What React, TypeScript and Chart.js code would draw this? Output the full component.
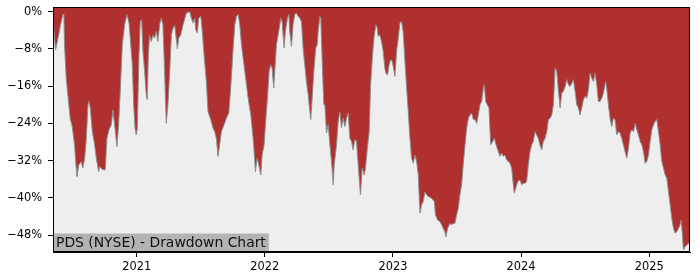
import React, { useEffect, useRef } from "react";
import { Chart, registerables } from "chart.js";

Chart.register(...registerables);

const dates: number[] = [
  2020.347, 2020.367, 2020.391, 2020.403, 2020.424, 2020.432, 2020.437, 2020.450, 2020.463, 2020.481,
  2020.497, 2020.515, 2020.528, 2020.534, 2020.549, 2020.567, 2020.580, 2020.594, 2020.607, 2020.620,
  2020.628, 2020.638, 2020.654, 2020.672, 2020.685, 2020.703, 2020.711, 2020.737, 2020.755, 2020.768,
  2020.784, 2020.802, 2020.815, 2020.828, 2020.846, 2020.859, 2020.872, 2020.888, 2020.906, 2020.924,
  2020.940, 2020.950, 2020.966, 2020.977, 2020.987, 2020.997, 2021.005, 2021.018, 2021.028, 2021.039,
  2021.049, 2021.062, 2021.075, 2021.083, 2021.091, 2021.101, 2021.114, 2021.128, 2021.140, 2021.153,
  2021.166, 2021.179, 2021.192, 2021.205, 2021.218, 2021.231, 2021.244, 2021.258, 2021.271, 2021.284,
  2021.297, 2021.318, 2021.328, 2021.344, 2021.362, 2021.388, 2021.414, 2021.427, 2021.440, 2021.453,
  2021.461, 2021.474, 2021.484, 2021.500, 2021.510, 2021.526, 2021.544, 2021.557, 2021.578, 2021.596,
  2021.609, 2021.622, 2021.635, 2021.648, 2021.661, 2021.682, 2021.700, 2021.719, 2021.734, 2021.753,
  2021.766, 2021.779, 2021.792, 2021.805, 2021.818, 2021.844, 2021.870, 2021.891, 2021.909, 2021.922,
  2021.927, 2021.940, 2021.953, 2021.969, 2021.979, 2021.995, 2022.005, 2022.021, 2022.034, 2022.047,
  2022.057, 2022.070, 2022.078, 2022.091, 2022.109, 2022.125, 2022.135, 2022.143, 2022.151, 2022.161,
  2022.177, 2022.188, 2022.195, 2022.208, 2022.221, 2022.234, 2022.247, 2022.260, 2022.273, 2022.286,
  2022.299, 2022.312, 2022.325, 2022.339, 2022.352, 2022.359, 2022.370, 2022.383, 2022.398, 2022.409,
  2022.417, 2022.430, 2022.437, 2022.451, 2022.461, 2022.469, 2022.482, 2022.495, 2022.508, 2022.521,
  2022.534, 2022.542, 2022.560, 2022.573, 2022.586, 2022.599, 2022.612, 2022.625, 2022.638, 2022.651,
  2022.664, 2022.677, 2022.690, 2022.703, 2022.716, 2022.729, 2022.747, 2022.760, 2022.776, 2022.786,
  2022.802, 2022.815, 2022.826, 2022.841, 2022.852, 2022.867, 2022.878, 2022.885, 2022.898, 2022.911,
  2022.924, 2022.937, 2022.945, 2022.958, 2022.971, 2022.982, 2022.995, 2023.003, 2023.016, 2023.029,
  2023.042, 2023.055, 2023.068, 2023.081, 2023.094, 2023.107, 2023.120, 2023.133, 2023.146, 2023.159,
  2023.172, 2023.185, 2023.198, 2023.211, 2023.224, 2023.237, 2023.250, 2023.263, 2023.276, 2023.302,
  2023.323, 2023.333, 2023.349, 2023.367, 2023.380, 2023.393, 2023.406, 2023.414, 2023.427, 2023.445,
  2023.458, 2023.471, 2023.484, 2023.497, 2023.510, 2023.523, 2023.536, 2023.549, 2023.563, 2023.576,
  2023.589, 2023.602, 2023.615, 2023.628, 2023.641, 2023.654, 2023.667, 2023.680, 2023.693, 2023.706,
  2023.714, 2023.724, 2023.737, 2023.750, 2023.763, 2023.779, 2023.792, 2023.805, 2023.823, 2023.836,
  2023.849, 2023.862, 2023.875, 2023.888, 2023.901, 2023.914, 2023.927, 2023.940, 2023.948, 2023.958,
  2023.974, 2023.992, 2024.005, 2024.018, 2024.031, 2024.044, 2024.057, 2024.070, 2024.083, 2024.096,
  2024.109, 2024.122, 2024.135, 2024.148, 2024.161, 2024.174, 2024.188, 2024.201, 2024.214, 2024.227,
  2024.240, 2024.253, 2024.266, 2024.279, 2024.292, 2024.305, 2024.318, 2024.331, 2024.344, 2024.357,
  2024.370, 2024.383, 2024.396, 2024.409, 2024.422, 2024.435, 2024.448, 2024.461, 2024.474, 2024.487,
  2024.500, 2024.513, 2024.526, 2024.539, 2024.552, 2024.565, 2024.578, 2024.591, 2024.604, 2024.617,
  2024.630, 2024.643, 2024.661, 2024.669, 2024.682, 2024.695, 2024.708, 2024.721, 2024.734, 2024.747,
  2024.760, 2024.773, 2024.786, 2024.799, 2024.812, 2024.826, 2024.839, 2024.852, 2024.865, 2024.878,
  2024.891, 2024.904, 2024.917, 2024.930, 2024.943, 2024.956, 2024.969, 2024.982, 2024.995, 2025.008,
  2025.021, 2025.034, 2025.047, 2025.060, 2025.073, 2025.086, 2025.099, 2025.112, 2025.125, 2025.138,
  2025.151, 2025.164, 2025.177, 2025.190, 2025.203, 2025.216, 2025.229, 2025.242, 2025.250, 2025.260,
  2025.268, 2025.281, 2025.294, 2025.307, 2025.319,
];

// Drawdown from running peak, in percent
const drawdown: number[] = [
  -1.7, -8.2, -5.0, -3.2, -0.6, -0.5, -7.1, -14.3, -17.9, -22.9,
  -24.7, -28.6, -33.6, -35.4, -32.9, -32.2, -33.6, -31.5, -27.2, -20.0,
  -19.3, -20.7, -25.8, -28.6, -31.5, -34.4, -33.3, -34.0, -34.0, -27.2,
  -25.4, -24.3, -21.1, -24.3, -29.0, -24.3, -17.1, -7.1, -2.8, -0.6,
  -2.4, -5.7, -11.4, -20.0, -25.0, -26.5, -25.0, -9.3, -2.1, -1.7,
  -8.5, -12.8, -17.9, -18.9, -9.3, -5.0, -6.4, -5.0, -5.7, -4.2,
  -6.4, -2.8, -1.4, -2.8, -12.8, -24.0, -20.0, -12.8, -5.0, -3.5,
  -3.0, -8.0, -5.7, -5.0, -2.8, -0.3, 0.0, -1.4, -2.4, -1.4,
  -3.9, -4.6, -1.4, -1.0, -3.5, -9.3, -15.0, -21.5, -23.2, -25.0,
  -25.8, -27.2, -31.1, -28.6, -25.8, -24.3, -22.9, -21.8, -16.4, -7.8,
  -2.8, -1.0, -0.6, -2.8, -7.1, -12.8, -18.6, -22.2, -27.2, -32.2,
  -34.4, -31.5, -32.9, -35.1, -30.8, -28.6, -24.3, -18.6, -12.8, -11.4,
  -12.1, -16.4, -12.8, -7.1, -4.2, -1.4, -2.1, -5.0, -7.8, -4.2,
  -1.4, -0.6, -4.2, -7.5, -2.8, -0.6, -0.3, -1.0, -1.4, -2.1,
  -7.8, -11.4, -15.0, -17.9, -21.5, -23.2, -18.6, -12.8, -7.8, -7.1,
  -4.2, -1.0, -1.4, -12.8, -20.0, -20.0, -26.1, -24.3, -28.6, -32.2,
  -37.2, -32.9, -28.6, -23.6, -21.5, -25.0, -22.9, -24.7, -22.9, -21.8,
  -27.2, -27.9, -29.7, -27.5, -27.9, -32.9, -39.4, -33.6, -35.1, -33.6,
  -29.0, -25.8, -15.7, -9.3, -5.7, -2.8, -3.5, -5.3, -5.0, -6.4,
  -8.5, -12.1, -13.2, -13.6, -11.4, -10.3, -10.7, -11.8, -13.9, -8.5,
  -5.7, -2.4, -2.1, -4.6, -10.7, -16.4, -21.5, -27.2, -31.5, -32.6,
  -30.8, -32.2, -35.1, -43.3, -41.5, -40.8, -38.7, -39.4, -39.7, -40.1,
  -40.8, -43.7, -44.8, -45.1, -45.8, -46.6, -47.3, -48.4, -46.6, -45.5,
  -45.8, -45.5, -45.5, -43.7, -42.3, -39.4, -37.2, -32.9, -28.6, -25.0,
  -22.9, -22.2, -21.8, -23.2, -23.2, -24.0, -22.2, -20.0, -19.3, -16.4,
  -15.7, -19.3, -20.0, -20.7, -28.6, -27.9, -27.2, -28.6, -30.1, -31.1,
  -30.4, -31.1, -30.8, -31.9, -32.2, -32.6, -33.6, -37.2, -39.0, -38.0,
  -36.5, -36.2, -37.2, -36.9, -36.9, -36.5, -32.9, -30.1, -28.6, -27.9,
  -25.8, -26.5, -27.2, -28.6, -29.7, -27.9, -27.2, -25.8, -23.2, -22.9,
  -22.2, -20.0, -12.1, -12.8, -17.1, -20.7, -17.5, -17.1, -16.1, -14.6,
  -15.7, -16.1, -15.4, -14.6, -17.1, -20.0, -20.7, -22.2, -20.7, -18.9,
  -18.2, -18.6, -16.8, -13.2, -14.3, -15.0, -13.2, -15.7, -19.3, -19.3,
  -18.6, -17.5, -15.0, -16.4, -20.0, -22.9, -24.7, -22.9, -23.2, -26.5,
  -25.8, -26.1, -27.2, -28.6, -30.1, -31.5, -29.3, -26.1, -25.4, -25.8,
  -24.0, -25.4, -26.5, -27.9, -28.6, -30.1, -32.6, -32.2, -30.8, -27.9,
  -25.4, -24.3, -23.6, -23.2, -25.8, -28.6, -32.2, -33.6, -35.1, -35.8,
  -38.7, -41.5, -44.4, -46.6, -47.6, -47.3, -46.6, -45.8, -44.8, -48.0,
  -51.2, -50.5, -50.1, -49.8, -49.6,
];

const yearTicks: number[] = [2021, 2022, 2023, 2024, 2025];
const pctTicks: number[] = [0, -8, -16, -24, -32, -40, -48];
const title = "PDS (NYSE) - Drawdown Chart";

const FONT = "'DejaVu Sans', sans-serif";

export default function App() {
  const ref = useRef<HTMLCanvasElement | null>(null);

  useEffect(() => {
    document.body.style.margin = "0";
    const canvas = ref.current;
    if (!canvas) return;

    const points = dates.map((d, i) => ({ x: d, y: drawdown[i] }));

    const framePlugin = {
      id: "framePlugin",
      beforeDatasetsDraw(chart: any) {
        const { ctx, chartArea: a } = chart;
        ctx.save();
        ctx.fillStyle = "#eeeeee";
        ctx.fillRect(a.left, a.top, a.right - a.left, a.bottom - a.top);
        ctx.restore();
      },
      afterDraw(chart: any) {
        const { ctx, chartArea: a } = chart;
        ctx.save();
        // annotation box
        ctx.font = `13.9px ${FONT}`;
        const w = ctx.measureText(title).width;
        const boxH = 18.5;
        ctx.fillStyle = "#b3b3b3";
        ctx.fillRect(a.left, a.bottom - boxH, w + 6, boxH);
        ctx.fillStyle = "#111";
        ctx.textBaseline = "middle";
        ctx.textAlign = "left";
        ctx.fillText(title, a.left + 3, a.bottom - boxH / 2 + 0.5);
        // frame
        ctx.strokeStyle = "#000";
        ctx.lineWidth = 1;
        ctx.strokeRect(
          Math.round(a.left) + 0.5,
          Math.round(a.top) + 0.5,
          Math.round(a.right - a.left) - 1,
          Math.round(a.bottom - a.top) - 1
        );
        ctx.restore();
      },
    };

    const chart = new Chart(canvas, {
      type: "line",
      data: {
        datasets: [
          {
            data: points,
            parsing: false,
            fill: "end",
            backgroundColor: "#b03030",
            borderColor: "rgba(140,140,140,0.95)",
            borderWidth: 1,
            pointRadius: 0,
            tension: 0,
          } as any,
        ],
      },
      options: {
        animation: false,
        responsive: false,
        devicePixelRatio: 1,
        layout: { padding: { top: 7, right: 10, left: 0, bottom: 0 } },
        plugins: {
          legend: { display: false },
          tooltip: { enabled: false },
        },
        scales: {
          x: {
            type: "linear",
            min: dates[0],
            max: dates[dates.length - 1],
            afterBuildTicks: (scale: any) => {
              scale.ticks = yearTicks.map((v) => ({ value: v }));
            },
            afterFit: (scale: any) => {
              scale.height = 28;
              scale.paddingLeft = 0;
              scale.paddingRight = 0;
            },
            grid: {
              display: true,
              drawOnChartArea: false,
              drawTicks: true,
              tickLength: 5,
              color: "#000",
            },
            border: { display: true, color: "#000" },
            ticks: {
              font: { family: FONT, size: 11.4 },
              color: "#000",
              padding: 3,
              maxRotation: 0,
              autoSkip: false,
              callback: (v: any) => String(v),
            },
          },
          y: {
            type: "linear",
            min: -51.65,
            max: 1.0,
            afterBuildTicks: (scale: any) => {
              scale.ticks = pctTicks.map((v) => ({ value: v }));
            },
            afterFit: (scale: any) => {
              scale.width = 53;
              scale.paddingTop = 0;
              scale.paddingBottom = 0;
            },
            grid: {
              display: true,
              drawOnChartArea: false,
              drawTicks: true,
              tickLength: 5,
              color: "#000",
            },
            border: { display: true, color: "#000" },
            ticks: {
              font: { family: FONT, size: 11.4 },
              color: "#000",
              padding: 6,
              autoSkip: false,
              callback: (v: any) => (v === 0 ? "0%" : "\u2212" + Math.abs(v) + "%"),
            },
          },
        },
      },
      plugins: [framePlugin],
    });

    return () => {
      chart.destroy();
    };
  }, []);

  return (
    <div style={{ width: 700, height: 280 }}>
      <canvas ref={ref} width={700} height={280} style={{ display: "block" }} />
    </div>
  );
}
